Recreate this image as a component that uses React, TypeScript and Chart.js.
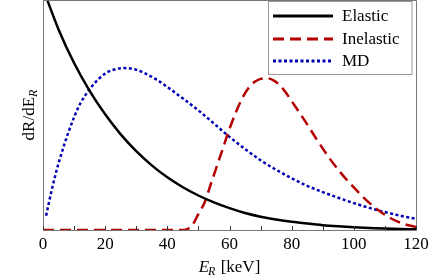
import React, { useEffect, useRef } from "react";
import { Chart, registerables } from "chart.js";

Chart.register(...registerables);

const FONT = "'Liberation Serif', 'Times New Roman', serif";

const xTickValues = [0, 20, 40, 60, 80, 100, 120];
const minorTickValues = [10, 30, 50, 70, 90, 110];

const legendLabels = ["Elastic", "Inelastic", "MD"];

const elasticX = [0, 5, 10, 15, 20, 25, 30, 35, 40, 45, 50, 55, 60, 65, 70, 75, 80, 85, 90, 95, 100, 105, 110, 115, 120];
const elasticY = [1.05, 0.872, 0.726, 0.605, 0.503, 0.416, 0.343, 0.281, 0.229, 0.186, 0.15, 0.12, 0.095, 0.074, 0.058, 0.046, 0.036, 0.028, 0.021, 0.016, 0.012, 0.009, 0.006, 0.004, 0.003];

const inelasticX = [0, 45, 46, 48, 50, 52, 54, 56, 58, 60, 62, 64, 66, 68, 70, 72, 74, 76, 78, 80, 84, 88, 92, 96, 100, 104, 108, 112, 116, 120];
const inelasticY = [0, 0, 0.002, 0.02, 0.07, 0.12, 0.2, 0.28, 0.36, 0.44, 0.51, 0.57, 0.615, 0.643, 0.657, 0.66, 0.652, 0.632, 0.6, 0.56, 0.48, 0.395, 0.315, 0.245, 0.185, 0.13, 0.085, 0.05, 0.027, 0.013];

const mdX = [1, 2, 3, 4, 5, 6, 7, 8, 10, 12, 15, 18, 20, 23, 26, 30, 33, 36, 40, 45, 50, 55, 60, 65, 70, 75, 80, 85, 90, 95, 100, 105, 110, 115, 120];
const mdY = [0.062, 0.125, 0.185, 0.24, 0.29, 0.335, 0.378, 0.418, 0.49, 0.55, 0.612, 0.658, 0.68, 0.698, 0.704, 0.697, 0.68, 0.658, 0.622, 0.572, 0.52, 0.463, 0.405, 0.352, 0.303, 0.262, 0.225, 0.192, 0.165, 0.14, 0.117, 0.096, 0.078, 0.062, 0.049];

const pairs = (xs: number[], ys: number[]) => xs.map((x, i) => ({ x, y: ys[i] }));

const COLORS = ["#000000", "#b40000", "#0000b4"];
const DASHES: number[][] = [[], [11, 6], [3, 2.5]];

const decorPlugin = {
  id: "decor",
  afterDraw(chart: any) {
    const { ctx, chartArea } = chart;
    const xs = chart.scales.x;
    const { left, right, top, bottom } = chartArea;
    ctx.save();
    // frame
    ctx.strokeStyle = "#777";
    ctx.lineWidth = 1;
    ctx.setLineDash([]);
    ctx.beginPath();
    ctx.moveTo(left + 0.5, top);
    ctx.lineTo(left + 0.5, bottom + 0.5);
    ctx.lineTo(right + 0.5, bottom + 0.5);
    ctx.lineTo(right + 0.5, top + 0.5);
    ctx.lineTo(left + 0.5, top + 0.5);
    ctx.stroke();
    // inward ticks
    ctx.strokeStyle = "#333";
    [...xTickValues, ...minorTickValues].forEach((v) => {
      const px = Math.round(xs.getPixelForValue(v)) + 0.5;
      ctx.beginPath();
      ctx.moveTo(px, bottom);
      ctx.lineTo(px, bottom - 4);
      ctx.stroke();
    });

    // x title
    ctx.fillStyle = "#000";
    ctx.textBaseline = "alphabetic";
    const big = `17px ${FONT}`;
    const bigI = `italic 17px ${FONT}`;
    const smallI = `italic 12px ${FONT}`;
    ctx.font = bigI;
    const wE = ctx.measureText("E").width;
    ctx.font = smallI;
    const wR = ctx.measureText("R").width;
    ctx.font = big;
    const wRest = ctx.measureText(" [keV]").width;
    const total = wE + wR + wRest;
    const x0 = (left + right) / 2 - total / 2;
    const base = 272;
    ctx.font = bigI;
    ctx.fillText("E", x0, base);
    ctx.font = smallI;
    ctx.fillText("R", x0 + wE - 1, base + 3);
    ctx.font = big;
    ctx.fillText(" [keV]", x0 + wE + wR, base);

    // y title
    ctx.save();
    ctx.translate(34, (top + bottom) / 2);
    ctx.rotate(-Math.PI / 2);
    ctx.font = big;
    const w1 = ctx.measureText("dR/dE").width;
    ctx.font = smallI;
    const w2 = ctx.measureText("R").width;
    const ty = w1 + w2;
    ctx.font = big;
    ctx.fillText("dR/dE", -ty / 2, 0);
    ctx.font = smallI;
    ctx.fillText("R", -ty / 2 + w1, 3);
    ctx.restore();

    // legend
    ctx.fillStyle = "#fff";
    ctx.fillRect(268.5, 1.5, 143.5, 73);
    ctx.strokeStyle = "#999";
    ctx.lineWidth = 1;
    ctx.strokeRect(268.5, 1.5, 143.5, 73);
    const rows = [16, 39, 61];
    legendLabels.forEach((lab, i) => {
      ctx.strokeStyle = COLORS[i];
      ctx.lineWidth = 3;
      ctx.setLineDash(DASHES[i]);
      ctx.beginPath();
      ctx.moveTo(273, rows[i]);
      ctx.lineTo(333, rows[i]);
      ctx.stroke();
      ctx.setLineDash([]);
      ctx.fillStyle = "#000";
      ctx.font = big;
      ctx.textBaseline = "middle";
      ctx.fillText(lab, 342, rows[i] + 1);
    });
    ctx.restore();
  },
};

export default function App() {
  const ref = useRef<HTMLCanvasElement>(null);
  useEffect(() => {
    if (!ref.current) return;
    const chart = new Chart(ref.current, {
      type: "line",
      data: {
        datasets: [
          { label: legendLabels[0], data: pairs(elasticX, elasticY), borderColor: COLORS[0], borderWidth: 2.5, borderDash: DASHES[0] },
          { label: legendLabels[1], data: pairs(inelasticX, inelasticY), borderColor: COLORS[1], borderWidth: 2.5, borderDash: DASHES[1] },
          { label: legendLabels[2], data: pairs(mdX, mdY), borderColor: COLORS[2], borderWidth: 2.5, borderDash: DASHES[2] },
        ],
      },
      options: {
        responsive: false,
        animation: false,
        layout: { padding: { left: 43, right: 32, top: 0, bottom: 0 } },
        elements: { point: { radius: 0 }, line: { cubicInterpolationMode: "monotone", fill: false } },
        scales: {
          x: {
            type: "linear",
            min: 0,
            max: 120,
            afterBuildTicks: (s: any) => {
              s.ticks = xTickValues.map((v) => ({ value: v }));
            },
            afterFit: (s: any) => {
              s.height = 47;
            },
            grid: { display: false, drawTicks: false },
            border: { display: false },
            ticks: { color: "#000", font: { family: FONT, size: 17 }, padding: 4, maxRotation: 0 },
          },
          y: { display: false, min: 0, max: 1 },
        },
        plugins: { legend: { display: false }, tooltip: { enabled: false } },
      },
      plugins: [decorPlugin],
    });
    return () => chart.destroy();
  }, []);
  return (
    <div style={{ position: "absolute", left: 0, top: 0, width: 448, height: 277, background: "#fff" }}>
      <canvas ref={ref} width={448} height={277} />
    </div>
  );
}
